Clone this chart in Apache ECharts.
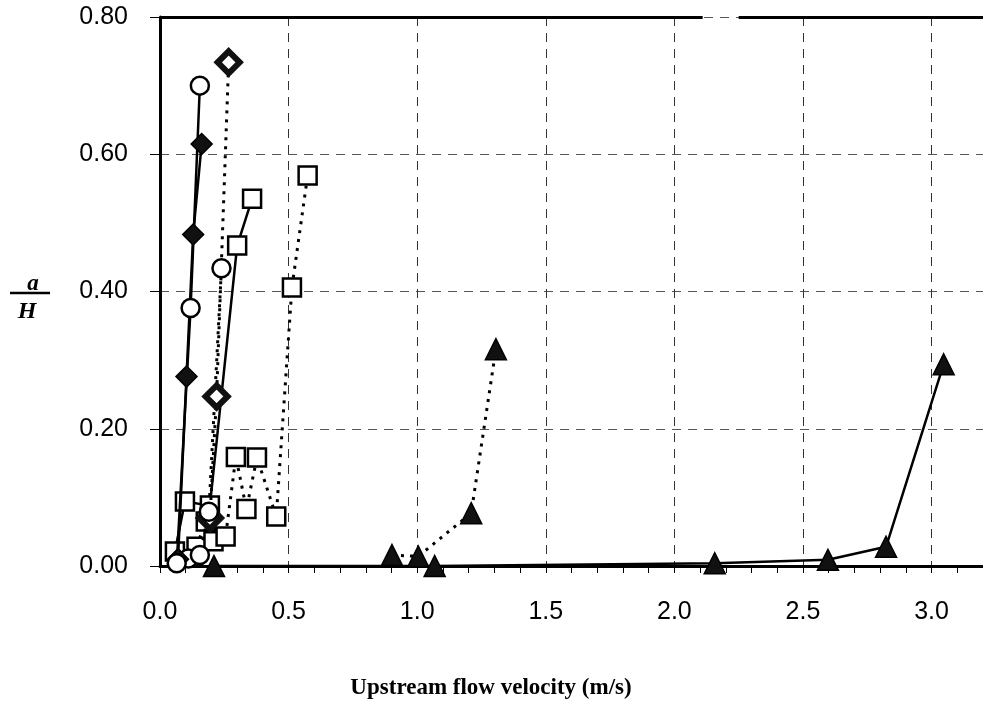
<!DOCTYPE html>
<html>
<head>
<meta charset="utf-8">
<script src="https://cdn.jsdelivr.net/npm/echarts@6/dist/echarts.min.js"></script>
<style>
html,body{margin:0;padding:0;background:#fff;}
#chart{width:983px;height:702px;}
</style>
</head>
<body>
<div id="chart"></div>
<script>
// ---- data (x = upstream flow velocity m/s, y = a/H) ----
const circlesSolid   = [[0.065,0.004],[0.119,0.376],[0.155,0.700]];
const circlesDotted  = [[0.110,0.011],[0.155,0.016],[0.190,0.079],[0.239,0.434]];
const diamondsSolid  = [[0.070,0.010],[0.103,0.276],[0.129,0.483],[0.162,0.615]];
const diamondsDotted = [[0.194,0.070],[0.220,0.247],[0.267,0.734]];
const squaresSolid   = [[0.058,0.021],[0.097,0.094],[0.194,0.088],[0.300,0.467],[0.358,0.535]];
const squaresDotted  = [[0.142,0.028],[0.178,0.065],[0.208,0.036],[0.255,0.043],[0.295,0.159],[0.336,0.083],[0.377,0.158],[0.452,0.072],[0.513,0.406],[0.574,0.569]];
const trianglesSolid = [[0.210,0.000],[1.068,0.000],[2.157,0.004],[2.597,0.009],[2.823,0.028],[3.047,0.294]];
const trianglesDotted= [[0.902,0.016],[1.004,0.014],[1.210,0.077],[1.306,0.316]];
const topBorder      = [[[0.0,0.8],[2.11,0.8]],[[2.25,0.8],[3.2,0.8]]];
const xTicks = {min:0, max:3.2, interval:0.5};
const yTicks = {min:0, max:0.8, interval:0.2};
const xTitle = 'Upstream flow velocity (m/s)';

const solid = {color:'#000', width:2.5, type:'solid'};
const dotted = {color:'#000', width:3, type:[3,6]};

function mk(name, data, symbol, size, line, itemStyle, z){
  return {
    name, type:'line', data, symbol, symbolSize:size,
    lineStyle:line, itemStyle, z:z||2, animation:false,
    showSymbol:true, emphasis:{disabled:true}
  };
}
const whiteMark = {color:'#fff', borderColor:'#000', borderWidth:2.5};
const blackMark = {color:'#111', borderColor:'#000', borderWidth:1.5};
const hatchMark = {color:'#fff', borderColor:'#111', borderWidth:6};

const chart = echarts.init(document.getElementById('chart'), null, {renderer:'canvas'});
chart.setOption({
  backgroundColor:'#fff',
  animation:false,
  grid:{left:160, top:17, bottom:136, width:826, containLabel:false},
  xAxis:{
    type:'value', min:xTicks.min, max:xTicks.max, interval:xTicks.interval,
    axisLine:{show:true, onZero:false, lineStyle:{color:'#000', width:3}},
    axisTick:{show:true, inside:false, length:7, lineStyle:{color:'#000', width:1}},
    minorTick:{show:true, splitNumber:5, length:7, lineStyle:{color:'#000', width:1}},
    axisLabel:{fontFamily:'Liberation Sans', fontSize:25, color:'#000', margin:34,
      formatter:v=>v.toFixed(1), showMaxLabel:false},
    splitLine:{show:true, lineStyle:{color:'#333', width:1, type:[9,7]}}
  },
  yAxis:{
    type:'value', min:yTicks.min, max:yTicks.max, interval:yTicks.interval,
    axisLine:{show:true, onZero:false, lineStyle:{color:'#000', width:3}},
    axisTick:{show:true, inside:false, length:10, lineStyle:{color:'#000', width:1}},
    axisLabel:{fontFamily:'Liberation Sans', fontSize:25, color:'#000', margin:32,
      formatter:v=>v.toFixed(2)},
    splitLine:{show:true, lineStyle:{color:'#555', width:1, type:[9,7]}}
  },
  graphic:[
    {type:'text', x:491, y:688, style:{text:xTitle, font:'bold 23px "Liberation Serif"', fill:'#000', align:'center', verticalAlign:'middle'}},
    {type:'text', x:33, y:284, style:{text:'a', font:'italic bold 23px "Liberation Serif"', fill:'#000', align:'center', verticalAlign:'middle'}},
    {type:'line', shape:{x1:10, y1:293, x2:50, y2:293}, style:{stroke:'#000', lineWidth:2.5}},
    {type:'text', x:27, y:312, style:{text:'H', font:'italic bold 24px "Liberation Serif"', fill:'#000', align:'center', verticalAlign:'middle'}}
  ],
  series:[
    {type:'line', data:[], markLine:{silent:true, symbol:'none', animation:false,
      lineStyle:{color:'#000', width:3, type:'solid'}, label:{show:false},
      data:topBorder.map(seg=>[{coord:seg[0]},{coord:seg[1]}])}},
    mk('trianglesSolid', trianglesSolid, 'triangle', 21, solid, blackMark, 3),
    mk('trianglesDotted', trianglesDotted, 'triangle', 21, dotted, blackMark, 3),
    mk('squaresDotted', squaresDotted, 'rect', 18, dotted, whiteMark, 4),
    mk('squaresSolid', squaresSolid, 'rect', 18, solid, whiteMark, 4),
    mk('diamondsDotted', diamondsDotted, 'diamond', 22, dotted, hatchMark, 5),
    mk('circlesDotted', circlesDotted, 'circle', 18, dotted, whiteMark, 5),
    mk('diamondsSolid', diamondsSolid, 'diamond', 21, solid, blackMark, 6),
    mk('circlesSolid', circlesSolid, 'circle', 18, solid, whiteMark, 6)
  ]
});
</script>
</body>
</html>
